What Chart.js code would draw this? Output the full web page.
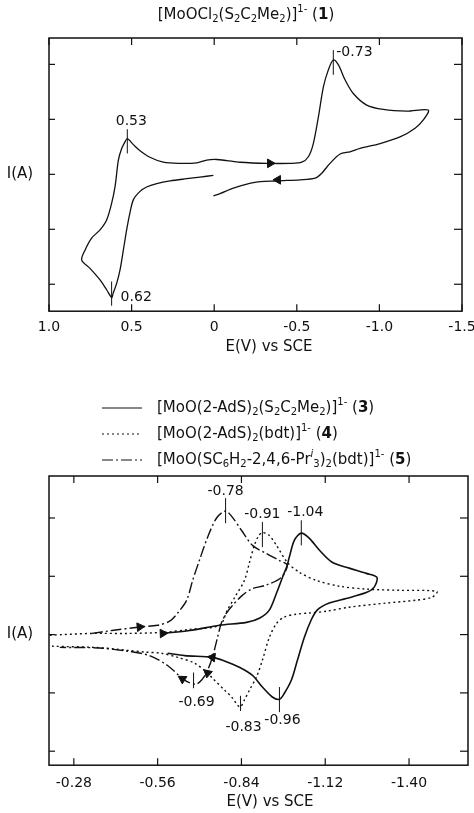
<!DOCTYPE html>
<html>
<head>
<meta charset="utf-8">
<script src="https://cdn.jsdelivr.net/npm/chart.js@4.4.1/dist/chart.umd.min.js"></script>
<style>
  body { margin: 0; background: #fff; }
  #wrap { position: relative; width: 474px; height: 813px; }
  canvas { position: absolute; left: 0; }
</style>
</head>
<body>
<div id="wrap">
  <canvas id="cv1" width="474" height="360" style="top:0"></canvas>
  <canvas id="cv2" width="474" height="453" style="top:360px"></canvas>
</div>
<script>
// ---- top voltammogram, complex 1 (E in V vs SCE, I in arbitrary units) ----
const cv1E = [0.005, 0.086, 0.167, 0.267, 0.348, 0.409, 0.449, 0.489, 0.510, 0.530, 0.550, 0.570, 0.590, 0.611, 0.621,
  0.651, 0.691, 0.752, 0.802, 0.782, 0.742, 0.691, 0.651, 0.621, 0.600, 0.580, 0.560, 0.540, 0.526, 0.489, 0.449,
  0.389, 0.308, 0.207, 0.106, 0.045, -0.015, -0.076, -0.156, -0.318, -0.459, -0.530, -0.570, -0.600, -0.631, -0.661,
  -0.691, -0.721, -0.752, -0.792, -0.842, -0.923, -1.024, -1.165, -1.296, -1.266, -1.216, -1.125, -1.004, -0.883,
  -0.822, -0.762, -0.701, -0.651, -0.611, -0.520, -0.378, -0.237, -0.116, -0.035, 0.005];
const cv1I = [-0.02, -0.05, -0.08, -0.12, -0.17, -0.23, -0.31, -0.46, -0.70, -1.01, -1.38, -1.74, -1.98, -2.16, -2.24,
  -2.10, -1.92, -1.71, -1.56, -1.38, -1.16, -1.01, -0.83, -0.53, -0.22, 0.26, 0.47, 0.59, 0.65, 0.54, 0.43,
  0.31, 0.22, 0.20, 0.21, 0.26, 0.27, 0.25, 0.22, 0.20, 0.20, 0.22, 0.32, 0.56, 1.05, 1.59,
  1.90, 2.08, 1.99, 1.72, 1.47, 1.26, 1.18, 1.15, 1.17, 0.99, 0.84, 0.68, 0.56, 0.47,
  0.41, 0.37, 0.20, 0.02, -0.07, -0.10, -0.12, -0.15, -0.25, -0.35, -0.39];
const cv1ArrowE = [-0.338, -0.386];
const cv1ArrowI = [0.20, -0.10];
const cv1ArrowRot = [90, 270];
const cv1PeakText = ['0.53', '0.62', '-0.73'];
const cv1PeakE = [0.526, 0.621, -0.721];
const cv1PeakHi = [0.82, -1.95, 2.26];
const cv1PeakLo = [0.38, -2.39, 1.81];
const cv1XTicks = [1.0, 0.5, 0, -0.5, -1.0, -1.5];
const cv1YTicks = [-2, -1, 0, 1, 2];

// ---- bottom voltammograms, complexes 3, 4, 5 ----
const cv3E = [-0.577, -0.667, -0.767, -0.857, -0.90, -0.933, -0.957, -0.977, -0.993, -1.0, -1.017, -1.04, -1.067, -1.10,
  -1.143, -1.20, -1.257, -1.293, -1.283, -1.257, -1.19, -1.133, -1.093, -1.073, -1.05, -1.027, -1.007, -0.983,
  -0.967, -0.943, -0.91, -0.877, -0.833, -0.777, -0.743, -0.65, -0.593];
const cv3I = [0.02, 0.07, 0.16, 0.21, 0.28, 0.42, 0.71, 0.98, 1.19, 1.33, 1.62, 1.74, 1.65, 1.45,
  1.24, 1.14, 1.05, 0.98, 0.81, 0.72, 0.62, 0.54, 0.42, 0.25, -0.05, -0.44, -0.78, -1.01,
  -1.11, -1.07, -0.90, -0.70, -0.56, -0.44, -0.39, -0.36, -0.32];
const cv4E = [-0.20, -0.34, -0.46, -0.583, -0.667, -0.767, -0.793, -0.82, -0.85, -0.867, -0.883, -0.897, -0.91, -0.933,
  -0.957, -0.993, -1.033, -1.09, -1.167, -1.257, -1.367, -1.493, -1.477, -1.423, -1.323, -1.20, -1.123, -1.067,
  -1.023, -0.983, -0.957, -0.933, -0.91, -0.89, -0.867, -0.85, -0.837, -0.827, -0.807, -0.783, -0.74, -0.727,
  -0.683, -0.627, -0.573, -0.517, -0.46, -0.35, -0.207];
const cv4I = [-0.01, 0.02, 0.02, 0.04, 0.09, 0.16, 0.42, 0.66, 0.93, 1.24, 1.53, 1.69, 1.75, 1.70,
  1.53, 1.24, 1.07, 0.93, 0.83, 0.78, 0.76, 0.74, 0.64, 0.59, 0.54, 0.47, 0.40, 0.37,
  0.35, 0.30, 0.19, -0.05, -0.44, -0.73, -0.95, -1.12, -1.24, -1.21, -1.07, -0.95, -0.73, -0.66,
  -0.49, -0.39, -0.32, -0.30, -0.27, -0.22, -0.20];
const cv5E = [-0.34, -0.407, -0.50, -0.56, -0.60, -0.627, -0.657, -0.677, -0.70, -0.727, -0.757, -0.787, -0.81, -0.84,
  -0.877, -0.923, -0.967, -0.993, -0.973, -0.923, -0.873, -0.84, -0.81, -0.79, -0.773, -0.76, -0.743, -0.727,
  -0.707, -0.687, -0.65, -0.593, -0.533, -0.467, -0.367, -0.233];
const cv5I = [0.02, 0.07, 0.13, 0.16, 0.23, 0.37, 0.59, 0.93, 1.28, 1.67, 2.00, 2.12, 2.01, 1.79,
  1.53, 1.39, 1.27, 1.19, 0.98, 0.85, 0.78, 0.66, 0.50, 0.37, 0.20, -0.05, -0.39, -0.61,
  -0.78, -0.85, -0.78, -0.53, -0.36, -0.29, -0.23, -0.22];
const cv2ArrowE = [-0.50, -0.577, -0.743, -0.727, -0.643];
const cv2ArrowI = [0.13, 0.02, -0.39, -0.66, -0.76];
const cv2ArrowRot = [85, 88, 277, 312, 302];
const cv2PeakText = ['-0.78', '-0.91', '-1.04', '-0.96', '-0.83', '-0.69'];
const cv2PeakE = [-0.787, -0.91, -1.04, -0.967, -0.837, -0.68];
const cv2PeakHi = [2.34, 1.93, 1.96, -0.90, -1.05, -0.65];
const cv2PeakLo = [1.91, 1.50, 1.53, -1.33, -1.31, -0.92];
const cv2XTicks = [-0.28, -0.56, -0.84, -1.12, -1.40];
const cv2YTicks = [-2, -1, 0, 1, 2];
const cv2Legend = [
  '[MoO(2-AdS)_{2}(S_{2}C_{2}Me_{2})]^{1-} (*{3})',
  '[MoO(2-AdS)_{2}(bdt)]^{1-} (*{4})',
  '[MoO(SC_{6}H_{2}-2,4,6-Pr~{i}_{3})_{2}(bdt)]^{1-} (*{5})'
];

const FONT = '"DejaVu Sans", sans-serif';
const INK = '#111';
const DOTTED = [2, 3];
const DASHDOT = [11, 3, 2, 3];

const toPts = (xs, ys) => xs.map((v, i) => ({ x: v, y: ys[i] }));

// text with _{sub}, ^{sup}, ~{italic sup}, *{bold}
function richText(ctx, str, x, y, size, align) {
  const parts = str.split(/([_^~*]\{[^}]*\})/).filter(Boolean).map(p => {
    const m = p.match(/^([_^~*])\{(.*)\}$/);
    return m ? { t: m[2], k: m[1] } : { t: p, k: '' };
  });
  const small = Math.round(size * 0.65);
  const font = k => k === '*' ? 'bold ' + size + 'px ' + FONT
    : k === '~' ? 'italic ' + small + 'px ' + FONT
    : (k === '_' || k === '^') ? small + 'px ' + FONT : size + 'px ' + FONT;
  let w = 0;
  parts.forEach(p => { ctx.font = font(p.k); p.w = ctx.measureText(p.t).width; w += p.w; });
  let cx = align === 'center' ? x - w / 2 : x;
  ctx.textAlign = 'left';
  ctx.textBaseline = 'middle';
  parts.forEach(p => {
    ctx.font = font(p.k);
    const dy = p.k === '_' ? size * 0.32 : (p.k === '^' || p.k === '~') ? -size * 0.35 : 0;
    ctx.fillText(p.t, cx, y + dy);
    cx += p.w;
  });
}

const cvDecor = {
  id: 'cvDecor',
  afterDatasetsDraw(chart, args, o) {
    const { ctx, chartArea: a, scales: { x, y } } = chart;
    const seg = (x1, y1, x2, y2) => { ctx.beginPath(); ctx.moveTo(x1, y1); ctx.lineTo(x2, y2); ctx.stroke(); };
    ctx.save();
    ctx.strokeStyle = INK;
    ctx.fillStyle = INK;
    ctx.lineWidth = 1.5;
    ctx.strokeRect(a.left, a.top, a.right - a.left, a.bottom - a.top);
    ctx.lineWidth = 1.2;
    o.xTicks.forEach(v => {
      const px = x.getPixelForValue(v);
      seg(px, a.top, px, a.top + 7);
      seg(px, a.bottom, px, a.bottom - 7);
    });
    o.yTicks.forEach(v => {
      const py = y.getPixelForValue(v);
      seg(a.left, py, a.left + 6, py);
      seg(a.right, py, a.right - 8, py);
    });
    // peak markers + labels
    ctx.lineWidth = 1;
    ctx.font = '14px ' + FONT;
    ctx.textBaseline = 'middle';
    o.peakE.forEach((e, i) => {
      const px = x.getPixelForValue(e);
      const top = y.getPixelForValue(o.peakHi[i]);
      const bot = y.getPixelForValue(o.peakLo[i]);
      seg(px, top, px, bot);
      const [align, dx, dy, anchor] = o.labelPos[i];
      ctx.textAlign = align;
      ctx.fillText(o.peakText[i], px + dx, (anchor === 'top' ? top : bot) + dy);
    });
    // axis titles
    ctx.font = '15px ' + FONT;
    ctx.textAlign = 'center';
    ctx.fillText('I(A)', 20, y.getPixelForValue(0));
    ctx.fillText('E(V) vs SCE', o.xTitleX, a.bottom + o.xTitleDy);
    if (o.title) richText(ctx, o.title, 246, 15, 15, 'center');
    if (o.legend) {
      o.legend.forEach((txt, i) => {
        const ly = 48 + i * 26;
        ctx.lineWidth = 1;
        ctx.setLineDash(o.legendDash[i]);
        seg(102, ly, 142, ly);
        ctx.setLineDash([]);
        richText(ctx, txt, 157, ly, 15, 'left');
      });
    }
    ctx.restore();
  }
};

function xScale(min, max, ticks, pad, fmt) {
  return {
    type: 'linear', reverse: true, min, max,
    afterBuildTicks: s => { s.ticks = ticks.map(v => ({ value: v })); },
    afterFit: s => { s.paddingLeft = 0; s.paddingRight = 0; },
    grid: { display: false, drawTicks: false },
    border: { display: false },
    ticks: { color: INK, padding: pad, autoSkip: false, maxRotation: 0, font: { family: 'DejaVu Sans', size: 14 }, callback: fmt }
  };
}

const arrowSet = (xs, ys, rot) => ({
  data: toPts(xs, ys), showLine: false, pointStyle: 'triangle', pointRadius: 5,
  pointRotation: rot, backgroundColor: INK, borderColor: INK, borderWidth: 1
});
const curve = (xs, ys, width, dash) => ({
  data: toPts(xs, ys), borderColor: INK, borderWidth: width, borderDash: dash,
  pointRadius: 0, tension: 0.3, fill: false
});

new Chart(document.getElementById('cv1'), {
  type: 'line',
  data: { datasets: [curve(cv1E, cv1I, 1.3, []), arrowSet(cv1ArrowE, cv1ArrowI, cv1ArrowRot)] },
  options: {
    responsive: false, animation: false,
    layout: { padding: { left: 49, right: 12, top: 38, bottom: 16 } },
    plugins: {
      legend: { display: false }, tooltip: { enabled: false },
      cvDecor: {
        xTicks: cv1XTicks, yTicks: cv1YTicks,
        peakE: cv1PeakE, peakHi: cv1PeakHi, peakLo: cv1PeakLo, peakText: cv1PeakText,
        labelPos: [['center', 4, -8, 'top'], ['left', 9, -8, 'bot'], ['left', 3, 2, 'top']],
        xTitleX: 269, xTitleDy: 36,
        title: '[MoOCl_{2}(S_{2}C_{2}Me_{2})]^{1-} (*{1})'
      }
    },
    scales: {
      x: xScale(-1.5, 1.0, cv1XTicks, 8, v => v === 0 ? '0' : v.toFixed(1)),
      y: { display: false, min: -2.49, max: 2.48 }
    }
  },
  plugins: [cvDecor]
});

new Chart(document.getElementById('cv2'), {
  type: 'line',
  data: {
    datasets: [
      curve(cv3E, cv3I, 1.6, []),
      curve(cv4E, cv4I, 1.4, DOTTED),
      curve(cv5E, cv5I, 1.4, DASHDOT),
      arrowSet(cv2ArrowE, cv2ArrowI, cv2ArrowRot)
    ]
  },
  options: {
    responsive: false, animation: false,
    layout: { padding: { left: 49, right: 5, top: 116, bottom: 11 } },
    plugins: {
      legend: { display: false }, tooltip: { enabled: false },
      cvDecor: {
        xTicks: cv2XTicks, yTicks: cv2YTicks,
        peakE: cv2PeakE, peakHi: cv2PeakHi, peakLo: cv2PeakLo, peakText: cv2PeakText,
        labelPos: [['center', 0, -7, 'top'], ['center', 0, -8, 'top'], ['center', 4, -8, 'top'],
          ['center', 3, 8, 'bot'], ['center', 3, 16, 'bot'], ['center', 3, 14, 'bot']],
        xTitleX: 270, xTitleDy: 37,
        legend: cv2Legend, legendDash: [[], DOTTED, DASHDOT]
      }
    },
    scales: {
      x: xScale(-1.597, -0.197, cv2XTicks, 10, v => v.toFixed(2)),
      y: { display: false, min: -2.24, max: 2.72 }
    }
  },
  plugins: [cvDecor]
});
</script>
</body>
</html>
